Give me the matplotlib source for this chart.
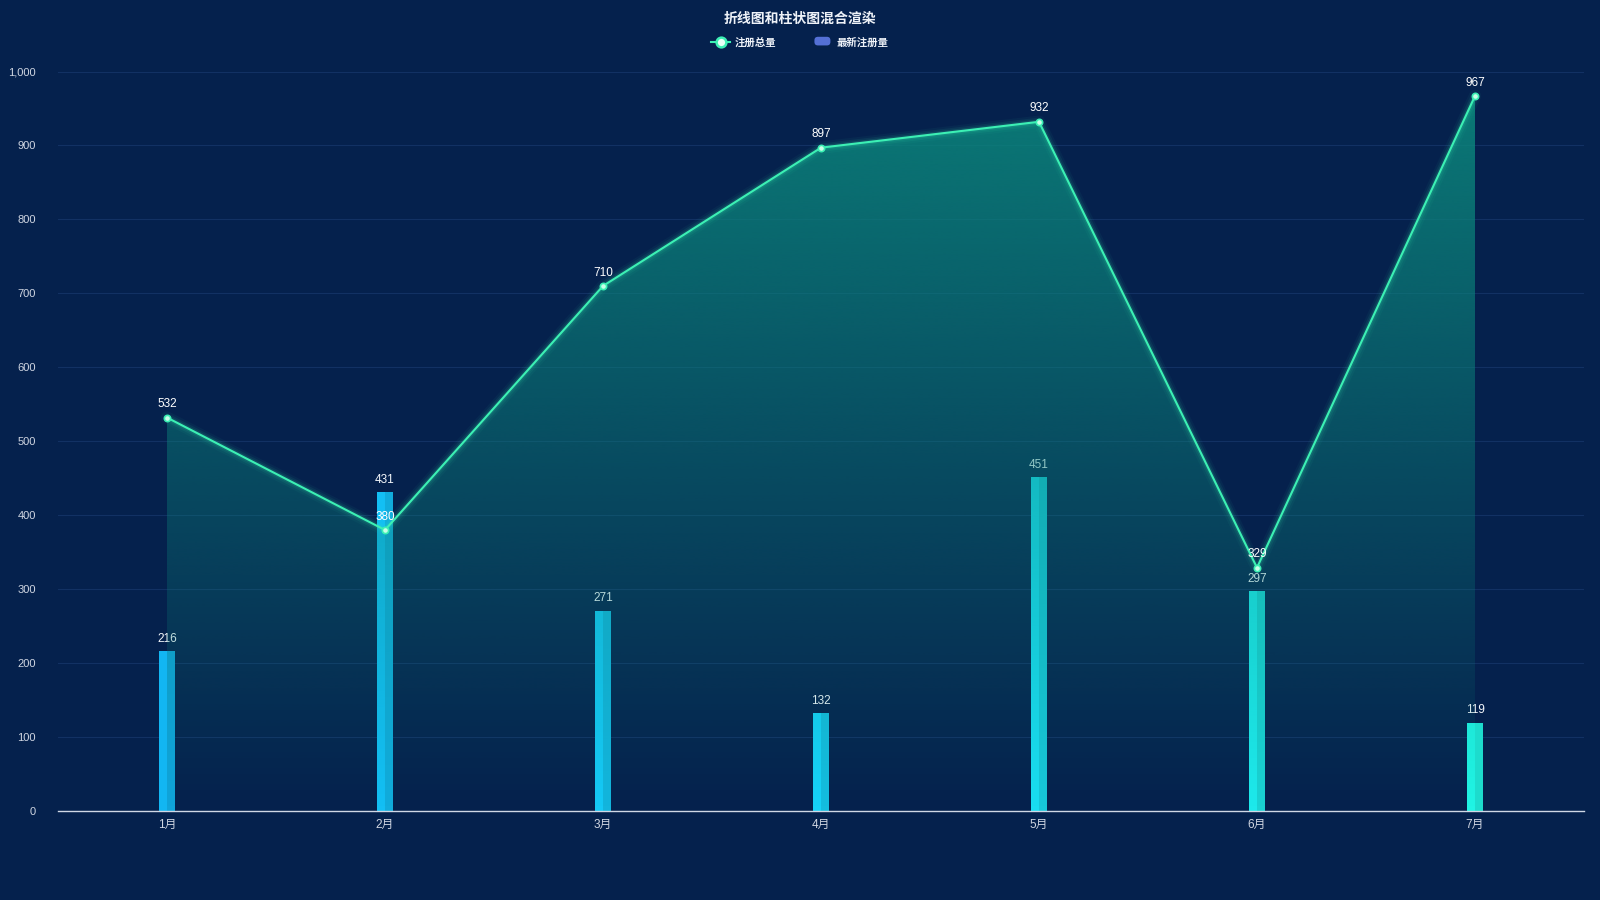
import numpy as np
import matplotlib.pyplot as plt
from matplotlib.colors import LinearSegmentedColormap, to_rgba
from matplotlib.lines import Line2D
from matplotlib.patches import FancyBboxPatch, Polygon
from matplotlib.legend_handler import HandlerPatch
from matplotlib.ticker import FuncFormatter

plt.rcParams['font.family'] = ['Liberation Sans', 'Noto Sans CJK SC', 'DejaVu Sans']

months = ['1月', '2月', '3月', '4月', '5月', '6月', '7月']
total_reg = [532, 380, 710, 897, 932, 329, 967]
new_reg = [216, 431, 271, 132, 451, 297, 119]

bg = '#05214d'
line_c = '#3cf0b4'

fig = plt.figure(figsize=(16, 9), dpi=100, facecolor=bg)
ax = fig.add_axes([58 / 1600, 1 - 811 / 900, (1584 - 58) / 1600, (811 - 71.5) / 900])
ax.set_facecolor(bg)

x = np.arange(len(months))
ax.set_xlim(-0.5, len(months) - 0.5)
ax.set_ylim(0, 1000)

# grid
for v in range(100, 1001, 100):
    ax.axhline(v, color='#123163', lw=0.8, zorder=0)

# bars, colour shifts from blue to cyan across the months
bar_cmap = LinearSegmentedColormap.from_list('b', ['#12b6f2', '#16d2f8', '#20f4e4'])
bw = 0.076
for i, v in enumerate(new_reg):
    c = bar_cmap(i / (len(months) - 1))
    ax.bar(x[i] - bw / 4, v, width=bw / 2, color=c, zorder=2)
    dark = tuple(np.array(c[:3]) * 0.9) + (1,)
    ax.bar(x[i] + bw / 4, v, width=bw / 2, color=dark, zorder=2)
    ax.text(x[i], v + 9, str(v), ha='center', va='bottom', color='#f4f7fb',
            fontsize=8.5, zorder=2.5)

# gradient area under the line (drawn over the bars)
verts = [(x[0], 0)] + list(zip(x, total_reg)) + [(x[-1], 0)]
poly = Polygon(verts, closed=True, facecolor='none', edgecolor='none')
ax.add_patch(poly)
grad = np.zeros((256, 2, 4))
rgb = to_rgba('#0c877d')
for k in range(3):
    grad[:, :, k] = rgb[k]
grad[:, :, 3] = (0.9 * np.linspace(0.0, 1.0, 256))[:, None]
im = ax.imshow(grad, extent=[x[0], x[-1], 0, 1000], origin='lower',
               aspect='auto', zorder=3, interpolation='bicubic')
im.set_clip_path(poly)

# line with glow
for lw, a in [(9, 0.04), (6, 0.07), (3.5, 0.12)]:
    ax.plot(x, total_reg, color=line_c, lw=lw, alpha=a, zorder=4,
            solid_capstyle='round')
ax.plot(x, total_reg, color=line_c, lw=1.5, zorder=5)
ax.plot(x, total_reg, 'o', ms=4.5, mfc='#c8ffe8', mec=line_c, mew=1.2, zorder=6)
for i, v in enumerate(total_reg):
    ax.text(x[i], v + 10, str(v), ha='center', va='bottom', color='white',
            fontsize=8.5, zorder=7)

# axes styling
for s in ['top', 'right', 'left']:
    ax.spines[s].set_visible(False)
ax.spines['bottom'].set_color('#d0d8e6')
ax.spines['bottom'].set_linewidth(1)
ax.set_xticks(x)
ax.set_xticklabels(months)
ax.set_yticks(range(0, 1001, 100))
ax.yaxis.set_major_formatter(FuncFormatter(lambda v, p: f'{int(v):,}'))
ax.tick_params(axis='x', colors='#d0d6e2', labelsize=8.5, length=0, pad=6)
ax.tick_params(axis='y', colors='#d0d6e2', labelsize=8, length=0, pad=16)

fig.text(0.5, 1 - 19 / 900, '折线图和柱状图混合渲染', ha='center', va='center',
         color='#eef2f8', fontsize=10, fontweight='bold')


class RoundRectHandler(HandlerPatch):
    def create_artists(self, legend, orig, xd, yd, w, h, fontsize, trans):
        p = FancyBboxPatch((xd + 1, yd), w - 2, h, boxstyle='round,pad=0,rounding_size=2.5',
                           facecolor='#5470d6', edgecolor='none', transform=trans)
        return [p]


h1 = Line2D([], [], color=line_c, lw=1.5, marker='o', ms=7, mfc='#e8fff6',
            mec=line_c, mew=1.8)
h2 = FancyBboxPatch((0, 0), 1, 1, facecolor='#5470d6')
leg = fig.legend([h1, h2], ['注册总量', '最新注册量'], loc='center',
                 bbox_to_anchor=(0.5, 1 - 43 / 900), ncol=2, frameon=False,
                 prop={'size': 7.5, 'weight': 'bold'}, labelcolor='#eef2f8',
                 handlelength=1.8, handleheight=0.9, columnspacing=3.5,
                 handletextpad=0.5,
                 handler_map={FancyBboxPatch: RoundRectHandler()})

fig.savefig('out.png', dpi=100, facecolor=bg)
